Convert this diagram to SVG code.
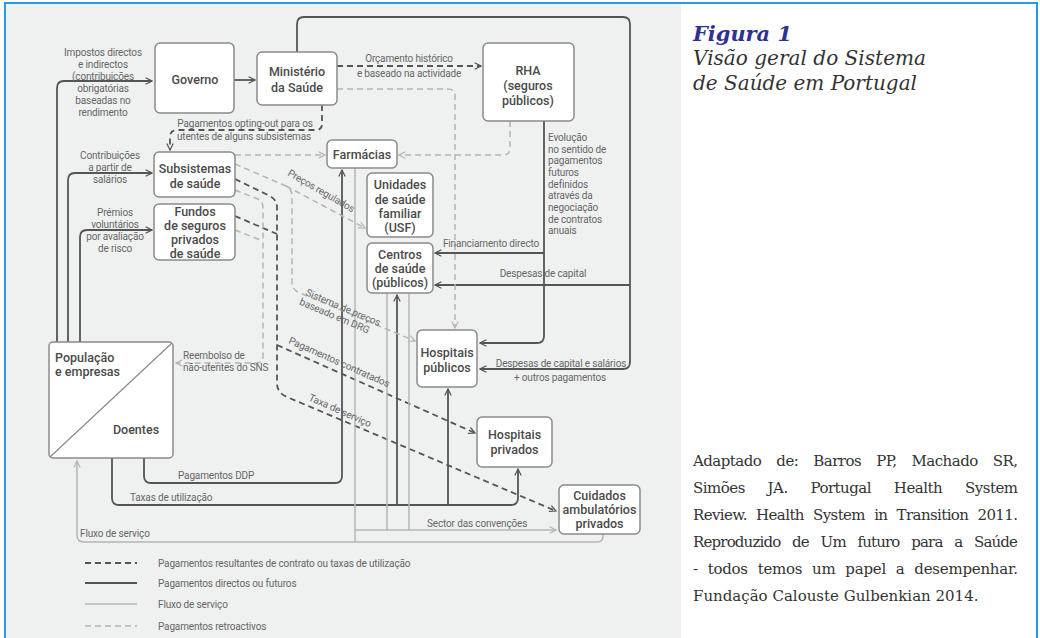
<svg xmlns="http://www.w3.org/2000/svg" width="1040" height="638" viewBox="0 0 1040 638">
<defs>
<style>
.node rect{fill:#fff;stroke:#8a8a8a;stroke-width:1.5}
.nt{font-family:Roboto,"Liberation Sans",sans-serif;font-weight:500;font-size:12.5px;fill:#4a4a4a;text-anchor:middle}
.lb{font-family:Roboto,"Liberation Sans",sans-serif;font-size:10px;fill:#666;letter-spacing:-0.15px}
.c{text-anchor:middle}
.d{fill:none;stroke:#555;stroke-width:1.8}
.dd{fill:none;stroke:#555;stroke-width:1.8;stroke-dasharray:6 4}
.l{fill:none;stroke:#b4b4b4;stroke-width:1.5}
.ld{fill:none;stroke:#b4b4b4;stroke-width:1.5;stroke-dasharray:6 4}
.ma{fill:none;stroke:#555;stroke-width:1.5;stroke-dasharray:none}
.ml{fill:none;stroke:#b4b4b4;stroke-width:1.5;stroke-dasharray:none}
.ser{font-family:"DejaVu Serif","Liberation Serif",serif}
</style>
<marker id="ad" viewBox="0 0 10 10" refX="9" refY="5" markerWidth="8" markerHeight="8" markerUnits="userSpaceOnUse" orient="auto"><path class="ma" d="M1,1 L9,5 L1,9"/></marker>
<marker id="al" viewBox="0 0 10 10" refX="9" refY="5" markerWidth="8" markerHeight="8" markerUnits="userSpaceOnUse" orient="auto"><path class="ml" d="M1,1 L9,5 L1,9"/></marker>
</defs>
<rect x="0" y="0" width="1040" height="638" fill="#fff"/>
<rect x="6" y="4" width="675" height="640" fill="#eff1f1"/>
<rect x="5" y="3" width="1032" height="660" fill="none" stroke="#2a9ae0" stroke-width="2"/>

<!-- title & caption -->
<g id="caption">
<text class="ser" x="693" y="41" font-weight="bold" font-style="italic" font-size="21" fill="#2e3192" textLength="99" lengthAdjust="spacingAndGlyphs">Figura 1</text>
<text class="ser" x="693" y="65" font-style="italic" font-size="19.5" fill="#333" textLength="233" lengthAdjust="spacingAndGlyphs">Visão geral do Sistema</text>
<text class="ser" x="693" y="90" font-style="italic" font-size="19.5" fill="#333" textLength="224" lengthAdjust="spacingAndGlyphs">de Saúde em Portugal</text>
<g class="ser" font-size="15" fill="#333">
<text x="693" y="466" word-spacing="10.8" textLength="325" lengthAdjust="spacing">Adaptado de: Barros PP, Machado SR,</text>
<text x="693" y="493" word-spacing="18.5" textLength="325" lengthAdjust="spacing">Simões JA. Portugal Health System</text>
<text x="693" y="520" word-spacing="5" textLength="325" lengthAdjust="spacing">Review. Health System in Transition 2011.</text>
<text x="693" y="547" word-spacing="7.7" textLength="325" lengthAdjust="spacing">Reproduzido de Um futuro para a Saúde</text>
<text x="693" y="574" word-spacing="5.3" textLength="325" lengthAdjust="spacing">- todos temos um papel a desempenhar.</text>
<text x="693" y="601">Fundação Calouste Gulbenkian 2014.</text>
</g>
</g>

<!-- connectors -->
<g id="connectors">
<!-- dark solid -->
<path class="d" d="M57,342 V88 Q57,81 64,81 H152" marker-end="url(#ad)"/>
<path class="d" d="M68,342 V180 Q68,173 75,173 H152" marker-end="url(#ad)"/>
<path class="d" d="M80,342 V237 Q80,230 87,230 H152" marker-end="url(#ad)"/>
<path class="d" d="M234,80 H255" marker-end="url(#ad)"/>
<path class="d" d="M297,52 V24 Q297,17 304,17 H623 Q630,17 630,24 V362 Q630,369 623,369 H480" marker-end="url(#ad)"/>
<path class="d" d="M630,285 H435" marker-end="url(#ad)"/>
<path class="d" d="M544,121 V336 Q544,343 537,343 H480" marker-end="url(#ad)"/>
<path class="d" d="M544,253 H435" marker-end="url(#ad)"/>
<path class="d" d="M144,458 V476 Q144,483 151,483 H335 Q342,483 342,476 V170" marker-end="url(#ad)"/>
<path class="d" d="M112,458 V498 Q112,505 119,505 H511 Q518,505 518,498 V469" marker-end="url(#ad)"/>
<path class="d" d="M397,505 V295" marker-end="url(#ad)"/>
<path class="d" d="M448,505 V389" marker-end="url(#ad)"/>
<!-- dark dashed -->
<path class="dd" d="M337,66 H481" marker-end="url(#ad)"/>
<path class="dd" d="M322,105 V124 Q322,130 316,130 H177 Q170,130 170,137 V150" marker-end="url(#ad)"/>
<path class="dd" d="M235,179 L270,196 Q277,200 277,207 V383 Q277,393 287,397 L556,511" marker-end="url(#ad)"/>
<path class="dd" d="M235,216 L277,234"/>
<path class="dd" d="M277,345 L475,433" marker-end="url(#ad)"/>
<!-- light dashed -->
<path class="ld" d="M337,89 H448 Q455,89 455,96 V328" marker-end="url(#al)"/>
<path class="ld" d="M510,121 V148 Q510,155 503,155 H399" marker-end="url(#al)"/>
<path class="ld" d="M235,155 H325" marker-end="url(#al)"/>
<path class="ld" d="M235,164 L286,186 Q292,189 292,196 V282 Q292,290 300,293 L415,341" marker-end="url(#al)"/>
<path class="ld" d="M286,186 L365,228" marker-end="url(#al)"/>
<path class="ld" d="M235,190 L258,199 Q263,201 263,208 V356 Q263,363 256,363 H176" marker-end="url(#al)"/>
<path class="ld" d="M235,230 L263,241"/>
<!-- light solid -->
<path class="l" d="M603,534 V536 Q603,542 597,542 H84 Q77,542 77,535 V461" marker-end="url(#al)"/>
<path class="l" d="M355,168 V542"/>
<path class="l" d="M387,293 V530"/>
<path class="l" d="M409,293 V530"/>
<path class="l" d="M355,530 H556" marker-end="url(#al)"/>
</g>

<!-- connector labels -->
<g id="labels" class="lb">
<text class="c"><tspan x="103" y="55.5">Impostos directos</tspan><tspan x="103" y="67.5">e indirectos</tspan><tspan x="103" y="79.5">(contribuições</tspan><tspan x="103" y="91.5">obrigatórias</tspan><tspan x="103" y="103.5">baseadas no</tspan><tspan x="103" y="115.5">rendimento</tspan></text>
<text class="c"><tspan x="110" y="159">Contribuições</tspan><tspan x="110" y="171">a partir de</tspan><tspan x="110" y="183">salários</tspan></text>
<text class="c"><tspan x="115" y="216">Prémios</tspan><tspan x="115" y="228">voluntários</tspan><tspan x="115" y="240">por avaliação</tspan><tspan x="115" y="252">de risco</tspan></text>
<text class="c" x="409" y="62">Orçamento histórico</text>
<text class="c" x="409" y="76.5">e baseado na actividade</text>
<text class="c" x="245" y="127">Pagamentos opting-out para os</text>
<text class="c" x="244" y="140">utentes de alguns subsistemas</text>
<text><tspan x="548" y="141">Evolução</tspan><tspan x="548" y="152.5">no sentido de</tspan><tspan x="548" y="164">pagamentos</tspan><tspan x="548" y="176">futuros</tspan><tspan x="548" y="187.5">definidos</tspan><tspan x="548" y="199">através da</tspan><tspan x="548" y="211">negociação</tspan><tspan x="548" y="222.5">de contratos</tspan><tspan x="548" y="234">anuais</tspan></text>
<text class="c" x="491" y="247">Financiamento directo</text>
<text class="c" x="543" y="277">Despesas de capital</text>
<text class="c" x="561" y="367">Despesas de capital e salários</text>
<text class="c" x="560" y="381">+ outros pagamentos</text>
<text x="183" y="359">Reembolso de</text>
<text x="183" y="371">não-utentes do SNS</text>
<text x="178" y="479">Pagamentos DDP</text>
<text x="130" y="501">Taxas de utilização</text>
<text x="80" y="537">Fluxo de serviço</text>
<text x="427" y="527">Sector das convenções</text>
<text x="287" y="175" transform="rotate(30 287 175)">Preços regulados</text>
<g transform="translate(305,295) rotate(23)"><text x="0" y="0">Sistema de preços</text><text x="-2" y="11">baseado em DRG</text></g>
<text x="288" y="343" transform="rotate(24 288 343)">Pagamentos contratados</text>
<text x="308" y="400" transform="rotate(24 308 400)">Taxa de serviço</text>
</g>

<!-- nodes -->
<g id="governo" class="node"><rect x="155" y="43" width="79" height="70" rx="5"/><text class="nt" x="195" y="84">Governo</text></g>
<g id="ministerio" class="node"><rect x="257" y="52" width="80" height="53" rx="5"/><text class="nt"><tspan x="297" y="76">Ministério</tspan><tspan x="297" y="91.5">da Saúde</tspan></text></g>
<g id="rha" class="node"><rect x="483" y="43" width="91" height="78" rx="5"/><text class="nt"><tspan x="528" y="74.5">RHA</tspan><tspan x="528" y="89.5">(seguros</tspan><tspan x="528" y="104.5">públicos)</tspan></text></g>
<g id="farmacias" class="node"><rect x="327" y="140" width="70" height="28" rx="5"/><text class="nt" x="362" y="158.5">Farmácias</text></g>
<g id="subsistemas" class="node"><rect x="154" y="152" width="81" height="45" rx="5"/><text class="nt"><tspan x="195" y="173">Subsistemas</tspan><tspan x="195" y="188">de saúde</tspan></text></g>
<g id="fundos" class="node"><rect x="154" y="204" width="81" height="56" rx="5"/><text class="nt"><tspan x="195" y="216">Fundos</tspan><tspan x="195" y="230">de seguros</tspan><tspan x="195" y="244">privados</tspan><tspan x="195" y="257.5">de saúde</tspan></text></g>
<g id="usf" class="node"><rect x="367" y="173" width="66" height="64" rx="5"/><text class="nt"><tspan x="400" y="189">Unidades</tspan><tspan x="400" y="203.5">de saúde</tspan><tspan x="400" y="217.5">familiar</tspan><tspan x="400" y="231.5">(USF)</tspan></text></g>
<g id="centros" class="node"><rect x="367" y="243" width="66" height="50" rx="5"/><text class="nt"><tspan x="400" y="259">Centros</tspan><tspan x="400" y="272.5">de saúde</tspan><tspan x="400" y="287">(públicos)</tspan></text></g>
<g id="hosp-publicos" class="node"><rect x="417" y="330" width="60" height="57" rx="5"/><text class="nt"><tspan x="447" y="357">Hospitais</tspan><tspan x="447" y="372">públicos</tspan></text></g>
<g id="hosp-privados" class="node"><rect x="477" y="417" width="75" height="50" rx="5"/><text class="nt"><tspan x="514.5" y="439">Hospitais</tspan><tspan x="514.5" y="454">privados</tspan></text></g>
<g id="cuidados" class="node"><rect x="559" y="485" width="81" height="49" rx="5"/><text class="nt"><tspan x="599.5" y="500">Cuidados</tspan><tspan x="599.5" y="514">ambulatórios</tspan><tspan x="599.5" y="528">privados</tspan></text></g>
<g id="populacao" class="node"><rect x="49" y="342" width="124" height="116" rx="4"/><line x1="50" y1="457" x2="172" y2="343" stroke="#8a8a8a" stroke-width="1.2"/><text class="nt" style="text-anchor:start"><tspan x="55" y="362">População</tspan><tspan x="55" y="376">e empresas</tspan></text><text class="nt" x="136" y="434">Doentes</text></g>

<!-- legend -->
<g id="legend" class="lb">
<path class="dd" d="M85,563 H137"/><text x="158" y="566.5">Pagamentos resultantes de contrato ou taxas de utilização</text>
<path class="d" d="M85,583 H137"/><text x="158" y="586.5">Pagamentos directos ou futuros</text>
<path class="l" d="M85,604 H137"/><text x="158" y="607.5">Fluxo de serviço</text>
<path class="ld" d="M85,626 H137"/><text x="158" y="629.5">Pagamentos retroactivos</text>
</g>
</svg>
